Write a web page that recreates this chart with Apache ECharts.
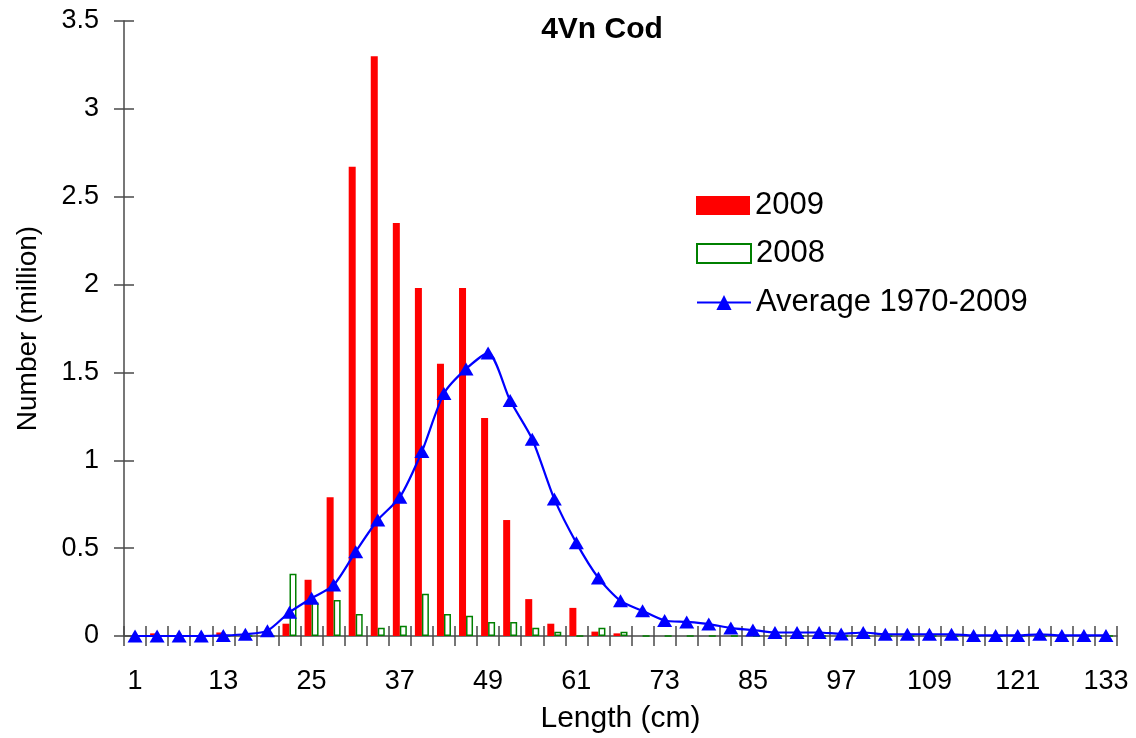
<!DOCTYPE html>
<html>
<head>
<meta charset="utf-8">
<script src="https://cdn.jsdelivr.net/npm/echarts@6/dist/echarts.min.js"></script>
<style>html,body{margin:0;padding:0;background:#fff;}#c{width:1136px;height:738px;}</style>
</head>
<body>
<div id="c"></div>
<script>
const lengths = [1,4,7,10,13,16,19,22,25,28,31,34,37,40,43,46,49,52,55,58,61,64,67,70,73,76,79,82,85,88,91,94,97,100,103,106,109,112,115,118,121,124,127,130,133];
const y2009 = [0,0.015,0,0,0.02,0,0,0.07,0.32,0.79,2.67,3.3,2.35,1.98,1.55,1.98,1.24,0.66,0.21,0.07,0.16,0.025,0.015,0,0,0,0,0,0,0,0,0,0,0,0,0,0,0,0,0,0,0,0,0,0];
const y2008 = [0,0,0,0,0,0,0,0.354,0.19,0.205,0.125,0.047,0.058,0.24,0.125,0.115,0.08,0.08,0.047,0.024,0,0.047,0.024,0,0,0,0,0,0,0,0,0,0,0,0,0,0,0,0,0,0,0,0,0,0];
const yAvg = [0,0,0,0,0.003,0.01,0.03,0.135,0.215,0.29,0.48,0.66,0.79,1.05,1.38,1.52,1.61,1.34,1.12,0.78,0.53,0.33,0.2,0.143,0.088,0.08,0.068,0.045,0.034,0.02,0.02,0.02,0.012,0.02,0.01,0.01,0.01,0.01,0.003,0.003,0.003,0.01,0.003,0.003,0.003];
const yTicks = [0,0.5,1,1.5,2,2.5,3,3.5];

const font = 'Liberation Sans, Arial, sans-serif';
const axisCol = '#4a4a4a';
const legText = {fontFamily: font, fontSize: 31, lineHeight: 30, color: '#000'};
const chart = echarts.init(document.getElementById('c'));
chart.setOption({
  animation: false,
  backgroundColor: '#fff',
  title: {
    text: '4Vn Cod', left: 597, top: 10, textAlign: 'center',
    textStyle: {fontFamily: font, fontWeight: 'bold', fontSize: 30, color: '#000'}
  },
  legend: [
    {left: 691, top: 185, itemWidth: 54, itemHeight: 19, textStyle: legText,
     data: [{name: '2009', icon: 'rect'}]},
    {left: 691, top: 233, itemWidth: 54, itemHeight: 19, textStyle: legText,
     data: [{name: '2008', icon: 'rect'}]},
    {left: 691, top: 282, itemWidth: 54, itemHeight: 19, textStyle: legText,
     data: ['Average 1970-2009']}
  ],
  grid: {left: 124, right: 19, top: 21, bottom: 102, containLabel: false, outerBoundsMode: 'none'},
  xAxis: [{
    type: 'category', data: lengths, position: 'bottom', offset: -10,
    name: 'Length (cm)', nameLocation: 'middle', nameGap: 78,
    nameTextStyle: {fontFamily: font, fontSize: 30, color: '#000'},
    axisLine: {show: false, onZero: false},
    axisTick: {show: true, interval: 0, length: 20, lineStyle: {color: axisCol, width: 1.5}},
    axisLabel: {interval: 3, fontFamily: font, fontSize: 27, color: '#000', margin: 42},
    splitLine: {show: false}
  }, {
    type: 'category', data: lengths, position: 'bottom',
    axisLine: {show: true, onZero: false, lineStyle: {color: axisCol, width: 1.5}},
    axisTick: {show: false}, axisLabel: {show: false}, splitLine: {show: false}
  }],
  yAxis: [{
    type: 'value', min: 0, max: 3.5, interval: 0.5, position: 'left', offset: -10,
    name: 'Number (million)', nameLocation: 'middle', nameGap: 92, nameRotate: 90,
    nameTextStyle: {fontFamily: font, fontSize: 28, color: '#000'},
    axisLine: {show: false},
    axisTick: {show: true, length: 20, lineStyle: {color: axisCol, width: 1.5}},
    axisLabel: {fontFamily: font, fontSize: 27, color: '#000', margin: 35,
      formatter: v => String(yTicks.find(t => Math.abs(t - v) < 1e-9) ?? v)},
    splitLine: {show: false}
  }, {
    type: 'value', min: 0, max: 3.5, interval: 0.5, position: 'left',
    axisLine: {show: true, lineStyle: {color: axisCol, width: 1.5}},
    axisTick: {show: false}, axisLabel: {show: false}, splitLine: {show: false}
  }],
  series: [{
    name: '2009', type: 'bar', data: y2009, barWidth: 7, barGap: '0%',
    itemStyle: {color: '#FF0000'}
  }, {
    name: '2008', type: 'bar', data: y2008, barWidth: 7, barGap: '0%',
    itemStyle: {color: '#FFFFFF', borderColor: '#008000', borderWidth: 1.5}
  }, {
    name: 'Average 1970-2009', type: 'line', data: yAvg, smooth: 0.25,
    symbol: 'triangle', symbolSize: [15, 13], showAllSymbol: true,
    lineStyle: {color: '#0000FF', width: 2.2},
    itemStyle: {color: '#0000FF'}, z: 5
  }]
});
</script>
</body>
</html>
